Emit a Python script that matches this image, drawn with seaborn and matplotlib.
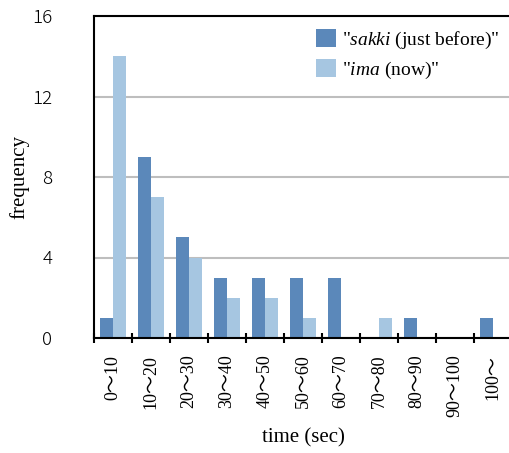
import numpy as np
import pandas as pd
import matplotlib
matplotlib.use("Agg")
import matplotlib.pyplot as plt
import seaborn as sns

# --- data ---
categories = ["0〜10", "10〜20", "20〜30", "30〜40", "40〜50", "50〜60",
              "60〜70", "70〜80", "80〜90", "90〜100", "100〜"]
sakki_counts = [1, 9, 5, 3, 3, 3, 3, 0, 1, 0, 1]
ima_counts = [14, 7, 4, 2, 2, 1, 0, 1, 0, 0, 0]
series_names = ['"$\\mathit{sakki}$ (just before)"', '"$\\mathit{ima}$ (now)"']
y_ticks = [0, 4, 8, 12, 16]

sns.set_theme(style="white")
plt.rcParams["mathtext.fontset"] = "custom"
plt.rcParams["mathtext.rm"] = "Liberation Serif"
plt.rcParams["mathtext.it"] = "Liberation Serif:italic"
plt.rcParams["font.family"] = ["Liberation Serif", "Noto Sans CJK JP", "DejaVu Sans"]
for key in ["text.color", "axes.labelcolor", "xtick.color", "ytick.color"]:
    plt.rcParams[key] = "black"

df = pd.DataFrame({
    "time": categories * 2,
    "count": sakki_counts + ima_counts,
    "series": [series_names[0]] * len(categories) + [series_names[1]] * len(categories),
})

fig = plt.figure(figsize=(5.10, 4.53), dpi=100)
ax = fig.add_axes([94 / 510, 115 / 453, 418 / 510, 322 / 453])

sns.barplot(data=df, x="time", y="count", hue="series", order=categories,
            hue_order=series_names, palette=["#5b88ba", "#a6c6e1"],
            width=0.72, gap=0.04, saturation=1, linewidth=0, ax=ax)

ax.set_xlim(-0.5, len(categories) - 0.5)
ax.set_ylim(0, 16)
ax.set_yticks(y_ticks)
ax.set_yticklabels([str(t) for t in y_ticks], family=["Noto Sans CJK JP", "DejaVu Sans"],
                   fontsize=13.5, fontweight="light")
ax.tick_params(axis="y", length=0, pad=30)

# category labels centred, tick marks on the boundaries
ax.set_xticks(range(len(categories)))
ax.set_xticklabels(categories, rotation=90, fontsize=13,
                   family=["Liberation Serif", "Noto Sans CJK JP"])
ax.tick_params(axis="x", which="major", length=0, pad=12)
ax.set_xticks(np.arange(len(categories) + 1) - 0.5, minor=True)
ax.tick_params(axis="x", which="minor", direction="inout", length=7, width=1.5,
               color="black", bottom=True)

ax.yaxis.grid(True, color="#bebebe", linewidth=1.5)
ax.set_axisbelow(True)
for side in ["left", "bottom", "top"]:
    ax.spines[side].set_color("black")
    ax.spines[side].set_linewidth(1.5)
ax.spines["right"].set_visible(False)

ax.set_xlabel("time (sec)", fontsize=15, labelpad=8)
ax.set_ylabel("frequency", fontsize=15, labelpad=2)

ax.legend(loc="upper left", bbox_to_anchor=(316 / 510, 1 - 29 / 453),
          bbox_transform=fig.transFigure, frameon=False, fontsize=14,
          handlelength=1.03, handleheight=1.03, handletextpad=0.3,
          labelspacing=0.45, borderpad=0, borderaxespad=0)

fig.savefig("out.png", dpi=100)
